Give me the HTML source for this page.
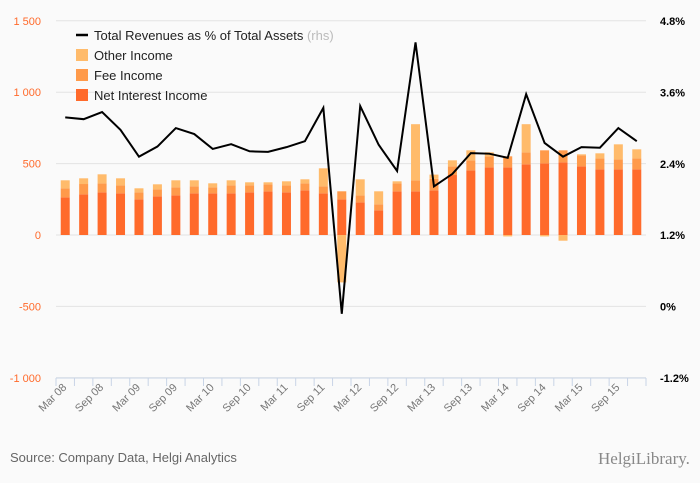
<!DOCTYPE html>
<html><head><meta charset="utf-8"><style>
body{margin:0;background:#fafafa;}
svg{display:block;font-family:"Liberation Sans",sans-serif;}
</style></head><body>
<svg id="chart" width="700" height="483">
<rect width="700" height="483" fill="#fafafa"/>
<g id="grid"></g><g id="bars"></g><g id="line"></g><g id="axes"></g>
<g>
 <line x1="76" y1="35" x2="88" y2="35" stroke="#000" stroke-width="2.5"/>
 <text x="94" y="40" font-size="13" fill="#222">Total Revenues as % of Total Assets <tspan fill="#bbb">(rhs)</tspan></text>
 <rect x="76" y="49" width="12" height="12" fill="#ffbb6b"/><text x="94" y="60" font-size="13" fill="#222">Other Income</text>
 <rect x="76" y="69" width="12" height="12" fill="#ff9a4a"/><text x="94" y="80" font-size="13" fill="#222">Fee Income</text>
 <rect x="76" y="89" width="12" height="12" fill="#ff6a2b"/><text x="94" y="100" font-size="13" fill="#222">Net Interest Income</text>
</g>
<text x="10" y="462" font-size="13" fill="#666">Source: Company Data, Helgi Analytics</text>
<text x="598" y="464" font-size="17" fill="#888" font-family="Liberation Serif,serif">HelgiLibrary.</text>
</svg>
<script>
const categories=["Mar 08","Jun 08","Sep 08","Dec 08","Mar 09","Jun 09","Sep 09","Dec 09","Mar 10","Jun 10","Sep 10","Dec 10","Mar 11","Jun 11","Sep 11","Dec 11","Mar 12","Jun 12","Sep 12","Dec 12","Mar 13","Jun 13","Sep 13","Dec 13","Mar 14","Jun 14","Sep 14","Dec 14","Mar 15","Jun 15","Sep 15","Dec 15"];
const netInterest=[264,285,299,292,250,271,278,292,292,292,299,306,299,313,292,250,229,173,306,306,313,420,453,474,474,495,502,509,481,460,460,460];
const feeIncome=[63,72,63,56,49,49,56,49,42,56,49,49,49,49,49,56,49,42,56,77,80,61,70,77,77,84,91,84,77,77,70,77];
const otherIncome=[56,40,63,49,28,35,49,42,28,35,21,14,28,28,126,-332,112,91,14,393,30,42,70,28,-10,197,-10,-40,7,35,105,63];
const ratio=[3.18,3.15,3.27,2.97,2.52,2.69,3.0,2.9,2.65,2.73,2.61,2.6,2.68,2.78,3.34,-0.12,3.37,2.72,2.28,4.44,2.02,2.23,2.58,2.57,2.5,3.57,2.75,2.52,2.68,2.67,3.0,2.78];
const leftTicks=[-1000,-500,0,500,1000,1500];
const leftLabels=["-1 000","-500","0","500","1 000","1 500"];
const rightTicks=[-1.2,0,1.2,2.4,3.6,4.8];
const rightLabels=["-1.2%","0%","1.2%","2.4%","3.6%","4.8%"];
const NS="http://www.w3.org/2000/svg";
const X0=56,X1=646,band=(X1-X0)/categories.length;
const yL=v=>235-v*(357/2500);
const yR=v=>306.6-v*(357/6);
const xC=i=>X0+band*(i+0.5);
function mk(p,tag,a){const e=document.createElementNS(NS,tag);for(const k in a)e.setAttribute(k,a[k]);p.appendChild(e);return e;}
const grid=document.getElementById('grid'),bars=document.getElementById('bars'),axes=document.getElementById('axes'),lineG=document.getElementById('line');
leftTicks.forEach((t,i)=>{
 const l=mk(grid,'line',{x1:X0,x2:X1,y1:yL(t),y2:yL(t),stroke:'#e3e3e3','stroke-width':1});
 
 
 const tx=mk(axes,'text',{x:41,y:yL(t)+4,'text-anchor':'end','font-size':11,fill:'#ff6a2b'});
 tx.textContent=leftLabels[i];
 
 
});
rightTicks.forEach((t,i)=>{
 const tx=mk(axes,'text',{x:660,y:yR(t)+4,'font-size':11,'font-weight':'bold',fill:'#000'});
 tx.textContent=rightLabels[i];
 
 
});
const ax=mk(axes,'line',{x1:X0,x2:X1,y1:378,y2:378,stroke:'#c8d4e6'});


for(let i=0;i<=categories.length;i++){
 const tk=mk(axes,'line',{x1:X0+band*i,x2:X0+band*i,y1:378,y2:386,stroke:'#c8d4e6'});
 
 
}
categories.forEach((c,i)=>{
 if(i%2)return;
 const x=xC(i)+2,y=388;
 const tx=mk(axes,'text',{x:x,y:y,'text-anchor':'end','font-size':11,fill:'#777',transform:`rotate(-45 ${x} ${y})`});
 tx.textContent=c;
 
 
});
const bw=9;
categories.forEach((c,i)=>{
 const x=xC(i)-bw/2;
 let pos=0,neg=0;
 [[netInterest[i],'#ff6a2b','bar-net-interest'],[feeIncome[i],'#ff9a4a','bar-fee-income'],[otherIncome[i],'#ffbb6b','bar-other-income']].forEach(([v,col,nm])=>{
  let y0,y1;
  if(v>=0){y0=yL(pos+v);y1=yL(pos);pos+=v;}else{y0=yL(neg);y1=yL(neg+v);neg+=v;}
  const r=mk(bars,'rect',{x:x,y:y0,width:bw,height:Math.max(0,y1-y0),fill:col});
  
  
 });
});
const pl=mk(lineG,'polyline',{points:ratio.map((v,i)=>xC(i)+','+yR(v)).join(' '),fill:'none',stroke:'#000','stroke-width':2,'stroke-linejoin':'miter'});


</script>
</body></html>
